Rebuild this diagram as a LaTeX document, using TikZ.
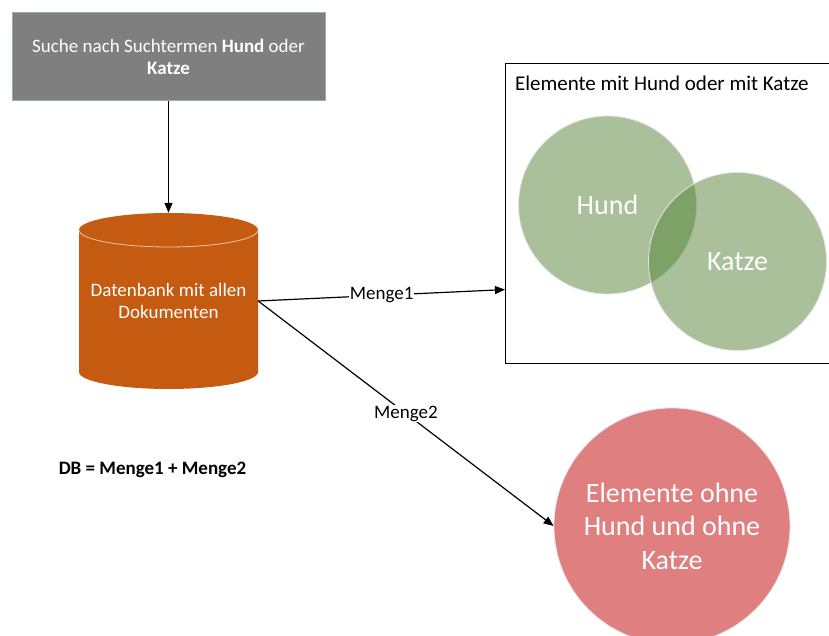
\documentclass[tikz,border=0pt]{standalone}
\usepackage{fontspec}
\setmainfont{Carlito}
\usetikzlibrary{arrows.meta}
\definecolor{querygray}{HTML}{7F7F7F}
\definecolor{queryedge}{HTML}{9AABC0}
\definecolor{dborange}{HTML}{C55A11}
\definecolor{dbrim}{HTML}{F2C6A8}
\definecolor{venngreen}{HTML}{548235}
\definecolor{restred}{HTML}{DF7F7F}
\definecolor{ringedge}{HTML}{E4E4E4}
\begin{document}
\begin{tikzpicture}[x=1pt,y=1pt,
  smalltext/.style={font=\fontsize{19}{22}\selectfont},
  whitetext/.style={smalltext, text=white, align=center},
  bigtext/.style={font=\fontsize{28}{33.5}\selectfont, text=white, align=center},
  conn/.style={draw=black, line width=1.2pt, -{Triangle[length=10pt,width=8pt]}},
  lbl/.style={smalltext, fill=white, inner sep=1pt},
  venn/.style={circle, minimum size=178pt, inner sep=0pt, fill=venngreen,
    fill opacity=0.5, text opacity=1, draw=ringedge, draw opacity=1,
    line width=0.8pt, bigtext}]
\useasboundingbox (0,0) rectangle (829,636);

% search query
\node[draw=queryedge, line width=1pt, fill=querygray, minimum width=313pt,
  minimum height=88pt, whitetext] (query) at (168.5,579)
  {Suche nach Suchtermen \textbf{Hund} oder\\\textbf{Katze}};

% database cylinder
\fill[dborange] (79,406) -- (79,264)
  arc[start angle=180, end angle=360, x radius=89.5pt, y radius=17pt]
  -- (258,406)
  arc[start angle=0, end angle=180, x radius=89.5pt, y radius=17pt] -- cycle;
\draw[dbrim, line width=0.8pt] (258,406)
  arc[start angle=0, end angle=-180, x radius=89.5pt, y radius=17pt];
\node[whitetext, minimum width=179pt, minimum height=176pt, inner sep=0pt]
  (db) at (168.5,335) {Datenbank mit allen\\Dokumenten};

\draw[conn] (query) -- (db.north);

% result set with both terms
\node[draw, line width=1.2pt, minimum width=330pt, minimum height=300pt,
  anchor=north west, inner sep=0pt] (set) at (505,573) {};
\node[font=\fontsize{21}{24}\selectfont, anchor=west] (title) at (511.5,553)
  {Elemente mit Hund oder mit Katze};
\node[venn] (hund) at (607.5,431) {Hund};
\node[venn] (katze) at (737.5,374.5) {Katze};

% rest set
\node[circle, minimum size=236pt, inner sep=0pt, fill=restred,
  draw=ringedge, line width=0.8pt, bigtext] (rest) at (672,110)
  {Elemente ohne\\Hund und ohne\\Katze};

\draw[conn] (db.east) -- node[lbl] {Menge1} ([yshift=-76pt]set.west);
\draw[conn] (db.east) -- node[lbl] {Menge2} (rest.west);

\node[font=\fontsize{19}{22}\selectfont\bfseries] (sum) at (152.5,166)
  {DB = Menge1 + Menge2};
\end{tikzpicture}
\end{document}
